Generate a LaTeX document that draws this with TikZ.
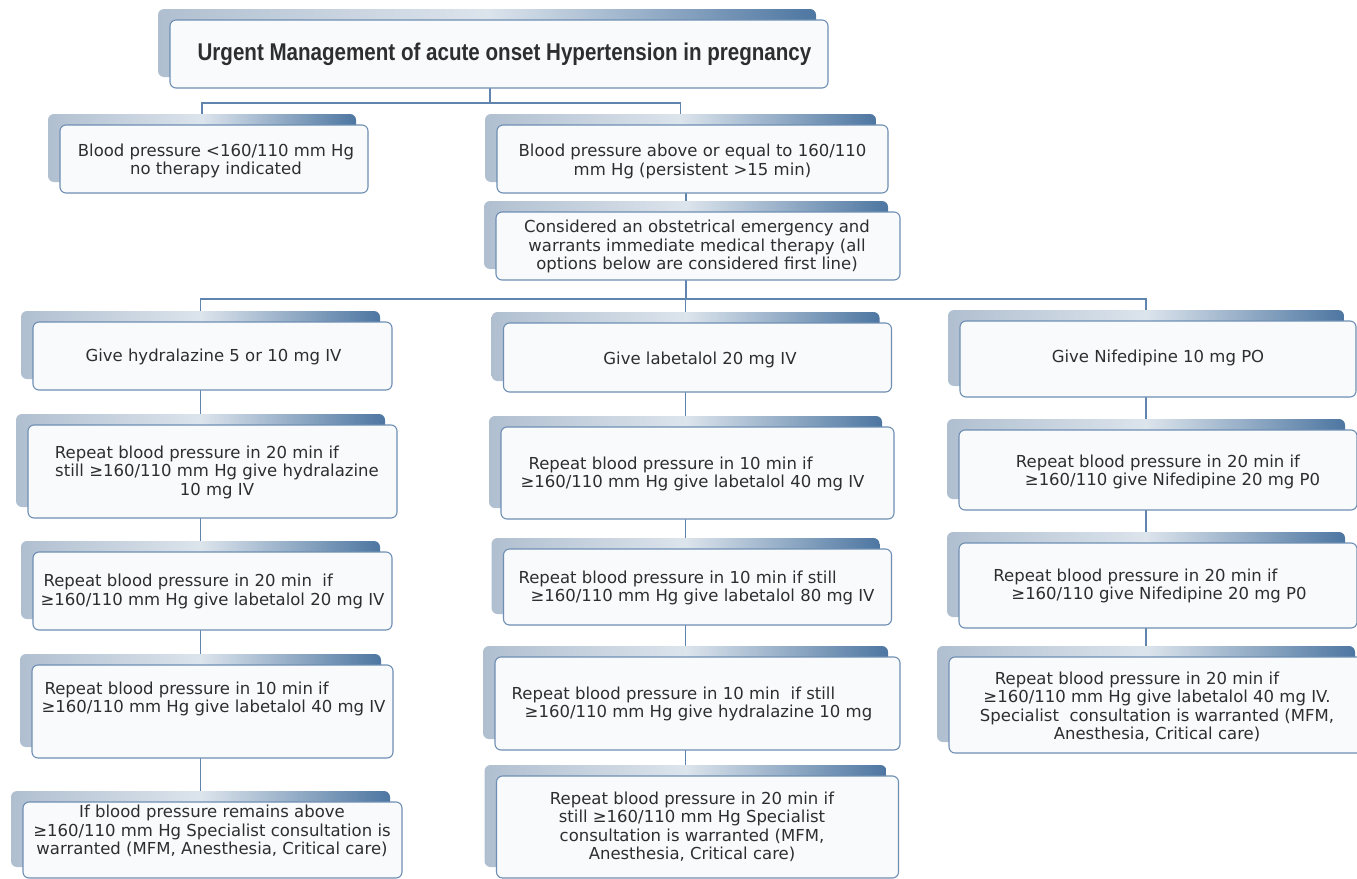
\documentclass[tikz,border=0pt]{standalone}
\usepackage{fontspec}
\setmainfont{DejaVu Sans}
\newfontfamily\titlefont[FakeStretch=0.85]{Liberation Sans}
\usetikzlibrary{calc}
\definecolor{linecol}{HTML}{5F84AD}
\definecolor{boxline}{HTML}{6E8FB3}
\definecolor{frontfill}{HTML}{F9FAFC}
\definecolor{tabL}{HTML}{B0BFD0}
\definecolor{tabM}{HTML}{DCE4EC}
\definecolor{tabR}{HTML}{4D76A1}
\definecolor{txtcol}{HTML}{2E2E2E}
\pgfdeclarelayer{background}
\pgfsetlayers{background,main}
\tikzset{
  front/.style={draw=boxline, line width=1.1pt, fill=frontfill, rounded corners=6pt, inner sep=0pt, outer sep=0pt},
  tab/.style={left color=tabL, right color=tabR, middle color=tabM, rounded corners=6pt},
  txt/.style={font=\fontsize{16.5}{18.5}\selectfont, text=txtcol, inner sep=0pt, align=center},
  ttl/.style={font=\titlefont\bfseries\fontsize{24.2}{28}\selectfont, text=txtcol, inner sep=0pt},
  link/.style={draw=linecol, line width=1.2pt},
}
\begin{document}
\begin{tikzpicture}[x=1pt,y=-1pt]
\useasboundingbox (0,0) rectangle (1357,878);
% front boxes
\node[front, minimum width=658, minimum height=68] (t) at (499,54) {};
\node[front, minimum width=308, minimum height=68] (a) at (214,159) {};
\node[front, minimum width=391, minimum height=68] (b) at (692.5,159) {};
\node[front, minimum width=404, minimum height=68] (c) at (698,246) {};
\node[front, minimum width=359, minimum height=68] (h1) at (212.5,356) {};
\node[front, minimum width=369, minimum height=93] (h2) at (212.5,471.5) {};
\node[front, minimum width=359, minimum height=78] (h3) at (212.5,591) {};
\node[front, minimum width=361, minimum height=93] (h4) at (212.5,711.5) {};
\node[front, minimum width=379, minimum height=76] (h5) at (212.5,840) {};
\node[front, minimum width=388, minimum height=69] (l1) at (697.5,357.5) {};
\node[front, minimum width=393, minimum height=92] (l2) at (697.5,473) {};
\node[front, minimum width=388, minimum height=76] (l3) at (697.5,587) {};
\node[front, minimum width=405, minimum height=93] (l4) at (697.5,703.5) {};
\node[front, minimum width=402, minimum height=102] (l5) at (697.5,827) {};
\node[front, minimum width=396, minimum height=76] (n1) at (1158,359) {};
\node[front, minimum width=398, minimum height=80] (n2) at (1158,470) {};
\node[front, minimum width=398, minimum height=85] (n3) at (1158,585.5) {};
\node[front, minimum width=418, minimum height=96] (n4) at (1158,705) {};
% texts
\node[ttl] (tt) at (504.5,54) {Urgent Management of acute onset Hypertension in pregnancy};
\node[txt] (at) at (216,161) {Blood pressure <160/110 mm Hg\\no therapy indicated};
\node[txt] (bt) at (692.5,161.5) {Blood pressure above or equal to 160/110\\mm Hg (persistent >15 min)};
\node[txt] (ct) at (697,246.5) {Considered an obstetrical emergency and\\warrants immediate medical therapy (all\\options below are considered first line)};
\node[txt] (h1t) at (213.5,357) {Give hydralazine 5 or 10 mg IV};
\node[txt] (h2t) at (217,472) {Repeat blood pressure in 20 min if\hspace*{40pt}\\still ≥160/110 mm Hg give hydralazine\\10 mg IV};
\node[txt, align=left] (h3t) at (212.5,591.5) {\hspace*{3pt}Repeat blood pressure in 20 min\ \ if\\≥160/110 mm Hg give labetalol 20 mg IV};
\node[txt, align=left] (h4t) at (213.5,699) {\hspace*{3pt}Repeat blood pressure in 10 min if\\≥160/110 mm Hg give labetalol 40 mg IV};
\node[txt] (h5t) at (212,831) {If blood pressure remains above\\≥160/110 mm Hg Specialist consultation is\\warranted (MFM, Anesthesia, Critical care)};
\node[txt] (l1t) at (700,360) {Give labetalol 20 mg IV};
\node[txt, align=left] (l2t) at (692.5,474) {\hspace*{8pt}Repeat blood pressure in 10 min if\\≥160/110 mm Hg give labetalol 40 mg IV};
\node[txt, align=left] (l3t) at (696.5,588) {Repeat blood pressure in 10 min if still\\\hspace*{12pt}≥160/110 mm Hg give labetalol 80 mg IV};
\node[txt, align=left] (l4t) at (692,704) {Repeat blood pressure in 10 min\ \ if still\\\hspace*{13pt}≥160/110 mm Hg give hydralazine 10 mg};
\node[txt] (l5t) at (692,827) {Repeat blood pressure in 20 min if\\still ≥160/110 mm Hg Specialist\\consultation is warranted (MFM,\\Anesthesia, Critical care)};
\node[txt] (n1t) at (1158,358) {Give Nifedipine 10 mg PO};
\node[txt, align=left] (n2t) at (1168,472) {Repeat blood pressure in 20 min if\\\hspace*{9pt}≥160/110 give Nifedipine 20 mg P0};
\node[txt, align=left] (n3t) at (1150,586) {Repeat blood pressure in 20 min if\\\hspace*{18pt}≥160/110 give Nifedipine 20 mg P0};
\node[txt] (n4t) at (1157,707) {Repeat blood pressure in 20 min if\hspace*{40pt}\\≥160/110 mm Hg give labetalol 40 mg IV.\\Specialist\ \ consultation is warranted (MFM,\\Anesthesia, Critical care)};
\begin{pgfonlayer}{background}
\fill[white] (0,0) rectangle (1357,878);
\coordinate (bus1) at (490,103);
\coordinate (bus2) at (686,299);
\draw[link] (t.south -| bus1) -- (bus1);
\draw[link] ([xshift=-12]a.north) |- (bus1) -| ([xshift=-12]b.north);
\draw[link] ([xshift=-12]c.north |- b.south) -- ([xshift=-12]c.north);
\draw[link] ([xshift=-12]c.south) -- (bus2);
\draw[link] ([xshift=-12]h1.north) |- (bus2) -| ([xshift=-12]n1.north);
\draw[link] ([xshift=-12]l1.north |- bus2) -- ([xshift=-12]l1.north);
\foreach \u/\v in {h1/h2,h2/h3,h3/h4,h4/h5,l1/l2,l2/l3,l3/l4,l4/l5,n1/n2,n2/n3,n3/n4}
  \draw[link] ([xshift=-12]\u.south) -- ([xshift=-12]\v.north);
\foreach \n in {t,a,b,c,h1,h2,h3,h4,h5,l1,l2,l3,l4,l5,n1,n2,n3,n4}
  \shade[tab] ([shift={(-12,-11)}]\n.south west) rectangle ([shift={(-12,-11)}]\n.north east);
\end{pgfonlayer}
\end{tikzpicture}
\end{document}
